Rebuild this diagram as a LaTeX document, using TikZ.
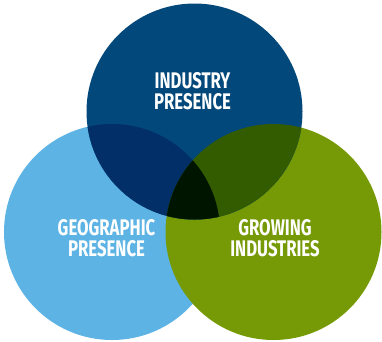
\documentclass[tikz,border=0pt]{standalone}
\usepackage{fontspec}
\newfontfamily\labelfont[FakeStretch=0.74]{Fira Sans Bold}
\definecolor{topc}{HTML}{03487A}
\definecolor{leftc}{HTML}{5CB3E4}
\definecolor{rightc}{HTML}{769A05}
\definecolor{tlc}{HTML}{022F68}
\definecolor{trc}{HTML}{335B00}
\definecolor{allc}{HTML}{001500}
\begin{document}
\begin{tikzpicture}[x=1pt,y=-1pt,
  lbl/.style={text=white,font=\labelfont\fontsize{22.6}{21}\selectfont,align=center,inner sep=0pt}]
\useasboundingbox (0,0) rectangle (382,341);
\def\R{108}
\coordinate (T) at (194.5,111.5);
\coordinate (L) at (112,232);
\coordinate (Rc) at (273.5,232);
\fill[leftc] (L) circle (\R);
\fill[rightc] (Rc) circle (\R);
\fill[topc] (T) circle (\R);
\begin{scope}
  \clip (T) circle (\R);
  \fill[tlc] (L) circle (\R);
  \fill[trc] (Rc) circle (\R);
  \clip (L) circle (\R);
  \fill[allc] (Rc) circle (\R);
\end{scope}
\node[lbl] (ip) at (192.5,91) {INDUSTRY\\PRESENCE};
\node[lbl] (gp) at (106.5,238.5) {GEOGRAPHIC\\PRESENCE};
\node[lbl] (gi) at (275,238.5) {GROWING\\INDUSTRIES};
\end{tikzpicture}
\end{document}
